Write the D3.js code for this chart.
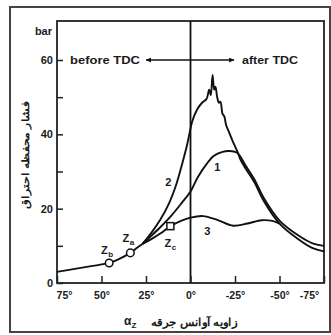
<!DOCTYPE html>
<html>
<head>
<meta charset="utf-8">
<script src="https://cdn.jsdelivr.net/npm/d3@7"></script>
<style>
  body { margin: 0; background: #fff; }
  svg { display: block; }
  text { font-family: "Liberation Sans", Arial, sans-serif; fill: #1a1a1a; }
</style>
</head>
<body>
<svg width="331" height="335"></svg>
<script>
// compression part, shared by all three runs
const compAngle = [75, 65, 55, 45.7, 40, 33.8, 30, 27];
const compP = [3, 3.8, 4.6, 5.4, 6.5, 8.1, 9.5, 10.5];

const curve1Angle = [27, 22, 17, 11, 5, 0, -4, -9, -13, -18, -22, -26, -28, -31.5, -36, -41, -50, -60, -69, -75];
const curve1P = [10.5, 12.7, 15, 18, 21.5, 24.6, 28.4, 32, 34.2, 35.3, 35.5, 35.1, 34, 31.2, 27.8, 23, 16.8, 13, 10.6, 10];

const curve2Angle = [27, 22, 17, 12, 8, 5, 2, -1, -3.5, -6.5, -9, -10.5, -11.4, -12.4, -13.3, -14, -15, -16, -16.8, -18, -19, -20, -22, -23.5, -26.5, -28, -31.5, -36, -41, -50, -60, -69, -75];
const curve2P = [10.5, 13.5, 17, 21.5, 26.5, 31.5, 37, 43.5, 46.5, 48.5, 49.5, 52, 50.5, 56, 52, 52.8, 50, 48.5, 48.8, 45.5, 44.8, 42.5, 40.2, 38.4, 35.2, 33.3, 30.4, 27, 22.2, 16, 12, 9.3, 8.5];

const curve3Angle = [27, 22, 17, 11.3, 5, 0, -7, -15, -24, -32, -40, -46, -50];
const curve3P = [10.5, 11.8, 13.3, 15.3, 16.8, 17.6, 18, 17, 15.4, 16, 16.9, 16.7, 16];

const curveNames = ["1", "2", "3"];
const labelAngle = [-15, 12.5, -9.5];
const labelP = [30.2, 26.2, 12.8];

const markerNames = ["b", "a", "c"];
const markerAngle = [45.7, 33.8, 11.3];
const markerP = [5.4, 8.1, 15.3];

const xTicks = [75, 50, 25, 0, -25, -50, -75];
const yTicks = [0, 10, 20, 30, 40, 50, 60];

const svg = d3.select("svg");

const x = d3.scaleLinear().domain([75, -75]).range([57, 324]);
const y = d3.scaleLinear().domain([0, 60]).range([283, 60]);

// outer frame of the scanned figure
svg.append("rect")
  .attr("x", 10).attr("y", 7).attr("width", 320).attr("height", 325)
  .attr("fill", "none").attr("stroke", "#444").attr("stroke-width", 2);

// plot frame
svg.append("rect")
  .attr("x", x(75)).attr("y", 21)
  .attr("width", x(-75) - x(75)).attr("height", y(0) - 21)
  .attr("fill", "none").attr("stroke", "#222").attr("stroke-width", 1.8);

// TDC line
svg.append("line")
  .attr("x1", x(0)).attr("x2", x(0))
  .attr("y1", 21).attr("y2", y(0))
  .attr("stroke", "#111").attr("stroke-width", 1.8);

const yAxis = d3.axisLeft(y)
  .tickValues(yTicks)
  .tickSizeInner(-6)
  .tickSizeOuter(0)
  .tickPadding(4)
  .tickFormat(d => (d % 20 === 0 ? d : ""));

svg.append("g")
  .attr("transform", `translate(${x(75)},0)`)
  .call(yAxis)
  .call(g => g.select(".domain").remove())
  .call(g => g.selectAll("line").attr("stroke", "#222").attr("stroke-width", 1.5))
  .call(g => g.selectAll("text").attr("font-size", 11).attr("font-weight", "bold")
    .attr("font-family", "Liberation Sans, Arial, sans-serif").attr("fill", "#1a1a1a"));

const xAxis = d3.axisBottom(x)
  .tickValues(xTicks)
  .tickSizeInner(-7)
  .tickSizeOuter(0)
  .tickPadding(9)
  .tickFormat(d => d + "°");

svg.append("g")
  .attr("transform", `translate(0,${y(0)})`)
  .call(xAxis)
  .call(g => g.select(".domain").remove())
  .call(g => g.selectAll("line").attr("stroke", "#222").attr("stroke-width", 1.5))
  .call(g => g.selectAll("text").attr("font-size", 10.5).attr("font-weight", "bold")
    .attr("font-family", "Liberation Sans, Arial, sans-serif").attr("fill", "#1a1a1a")
    .attr("dx", d => (d === 75 ? 7 : d === -75 ? -15 : 0)));

// unit
svg.append("text")
  .attr("x", 52).attr("y", 35)
  .attr("text-anchor", "end")
  .attr("font-size", 11).attr("font-weight", "bold")
  .text("bar");

// before / after TDC arrow
svg.append("defs").selectAll("marker")
  .data(["start", "end"])
  .join("marker")
  .attr("id", d => "arrow-" + d)
  .attr("viewBox", "0 0 10 10")
  .attr("refX", d => (d === "end" ? 10 : 0)).attr("refY", 5)
  .attr("markerWidth", 9).attr("markerHeight", 5)
  .attr("markerUnits", "userSpaceOnUse")
  .attr("orient", "auto")
  .append("path")
  .attr("d", d => (d === "end" ? "M0,0L10,5L0,10Z" : "M10,0L0,5L10,10Z"))
  .attr("fill", "#111");

svg.append("line")
  .attr("x1", x(25)).attr("x2", x(-24.5))
  .attr("y1", y(60)).attr("y2", y(60))
  .attr("stroke", "#111").attr("stroke-width", 1.5)
  .attr("marker-start", "url(#arrow-start)")
  .attr("marker-end", "url(#arrow-end)");

svg.append("text")
  .attr("x", 70).attr("y", y(60) + 4)
  .attr("font-size", 11).attr("font-weight", "bold")
  .attr("textLength", 70).attr("lengthAdjust", "spacingAndGlyphs")
  .text("before TDC");

svg.append("text")
  .attr("x", 242).attr("y", y(60) + 4)
  .attr("font-size", 11).attr("font-weight", "bold")
  .attr("textLength", 56).attr("lengthAdjust", "spacingAndGlyphs")
  .text("after TDC");

// curves
const line = d3.line()
  .x(d => x(d[0]))
  .y(d => y(d[1]))
  .curve(d3.curveCatmullRom.alpha(0.5));

const runs = [
  compAngle.map((a, i) => [a, compP[i]]),
  curve1Angle.map((a, i) => [a, curve1P[i]]),
  curve2Angle.map((a, i) => [a, curve2P[i]]),
  curve3Angle.map((a, i) => [a, curve3P[i]])
];

svg.append("g")
  .selectAll("path")
  .data(runs)
  .join("path")
  .attr("d", line)
  .attr("fill", "none")
  .attr("stroke", "#111")
  .attr("stroke-width", 1.9)
  .attr("stroke-linejoin", "round");

svg.append("g")
  .selectAll("text")
  .data(curveNames)
  .join("text")
  .attr("x", (d, i) => x(labelAngle[i]))
  .attr("y", (d, i) => y(labelP[i]))
  .attr("text-anchor", "middle")
  .attr("font-size", 11).attr("font-weight", "bold")
  .text(d => d);

// ignition points
const marks = svg.append("g");
marks.selectAll("circle")
  .data([0, 1])
  .join("circle")
  .attr("cx", i => x(markerAngle[i]))
  .attr("cy", i => y(markerP[i]))
  .attr("r", 3.8)
  .attr("fill", "#fff").attr("stroke", "#111").attr("stroke-width", 1.5);

marks.append("rect")
  .attr("x", x(markerAngle[2]) - 3.5)
  .attr("y", y(markerP[2]) - 3.5)
  .attr("width", 7).attr("height", 7)
  .attr("fill", "#fff").attr("stroke", "#111").attr("stroke-width", 1.5);

const zOffset = [[-2, -9], [-2, -11], [0, 21]];
const zLabel = marks.selectAll("text")
  .data(markerNames)
  .join("text")
  .attr("x", (d, i) => x(markerAngle[i]) + zOffset[i][0])
  .attr("y", (d, i) => y(markerP[i]) + zOffset[i][1])
  .attr("text-anchor", "middle")
  .attr("font-size", 11).attr("font-weight", "bold");
zLabel.append("tspan").text("Z");
zLabel.append("tspan")
  .attr("font-size", 8).attr("dx", 0.5).attr("dy", 3)
  .text(d => d);

// axis titles
svg.append("text")
  .attr("transform", "translate(29,155) rotate(-90)")
  .attr("text-anchor", "middle")
  .attr("font-family", "DejaVu Sans, sans-serif")
  .attr("font-size", 10).attr("font-weight", "bold")
  .attr("textLength", 108).attr("lengthAdjust", "spacingAndGlyphs")
  .text("فشار محفظه احتراق");

svg.append("text")
  .attr("x", 194).attr("y", 326)
  .attr("text-anchor", "middle")
  .attr("font-family", "DejaVu Sans, sans-serif")
  .attr("font-size", 11).attr("font-weight", "bold")
  .attr("textLength", 86).attr("lengthAdjust", "spacingAndGlyphs")
  .text("زاویه آوانس جرقه");

const alpha = svg.append("text")
  .attr("x", 124).attr("y", 325)
  .attr("font-size", 12).attr("font-weight", "bold");
alpha.append("tspan").text("α");
alpha.append("tspan").attr("font-size", 8).attr("dy", 3).text("Z");
</script>
</body>
</html>
